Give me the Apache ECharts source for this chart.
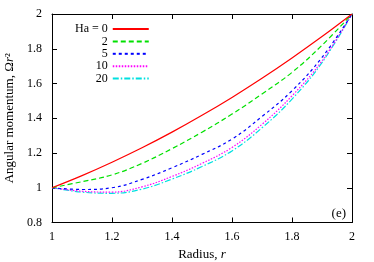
<!DOCTYPE html>
<html>
<head>
<meta charset="utf-8">
<script src="https://cdn.jsdelivr.net/npm/echarts@6/dist/echarts.min.js"></script>
<style>html,body{margin:0;padding:0;background:#fff}#c{width:374px;height:262px}</style>
</head>
<body>
<div id="c"></div>
<script>
var radius = [1.0, 1.1, 1.2, 1.3, 1.4, 1.5, 1.6, 1.7, 1.8, 1.9, 2.0];
var ha0  = [1.000, 1.070, 1.147, 1.230, 1.320, 1.417, 1.520, 1.630, 1.747, 1.870, 2.000];
var ha2  = [1.000, 1.035, 1.074, 1.140, 1.225, 1.320, 1.424, 1.540, 1.664, 1.820, 2.000];
var ha5  = [1.000, 0.990, 1.000, 1.048, 1.115, 1.192, 1.280, 1.410, 1.558, 1.750, 2.000];
var ha10 = [1.000, 0.980, 0.975, 1.005, 1.065, 1.140, 1.232, 1.365, 1.529, 1.730, 2.000];
var ha20 = [1.000, 0.975, 0.968, 0.992, 1.050, 1.122, 1.212, 1.345, 1.510, 1.720, 2.000];
var seriesNames = ['Ha = 0', '2', '5', '10', '20'];
var xTicks = [1, 1.2, 1.4, 1.6, 1.8, 2];
var yTicks = [0.8, 1, 1.2, 1.4, 1.6, 1.8, 2];

var colors = ['#ff0000', '#00e000', '#0000ff', '#ff00ff', '#00e0e0'];
var dashes = ['solid', [5, 3], [3, 3], [1.5, 1.5], [6, 2, 1.5, 2]];
var allData = [ha0, ha2, ha5, ha10, ha20];

function pairs(ys) { return radius.map(function (r, i) { return [r, ys[i]]; }); }

var font = 'Liberation Serif';
var chart = echarts.init(document.getElementById('c'), null, { renderer: 'canvas' });
var axisCommon = {
  type: 'value',
  axisLine: { show: true, lineStyle: { color: '#000', width: 1 } },
  axisTick: { show: true, inside: true, length: 5, lineStyle: { color: '#000' } },
  splitLine: { show: false },
  axisLabel: { color: '#000', fontFamily: font, fontSize: 12 }
};
var series = seriesNames.map(function (n, k) {
  return {
    name: n, type: 'line', xAxisIndex: 0, yAxisIndex: 0,
    data: pairs(allData[k]), smooth: 0.4, symbol: 'none',
    lineStyle: { color: colors[k], width: 1.2, type: dashes[k] },
    itemStyle: { color: colors[k] },
    z: 10 - k
  };
});
chart.setOption({
  animation: false,
  backgroundColor: '#fff',
  grid: { left: 52, right: 22, top: 14, bottom: 39.5, containLabel: false, outerBoundsMode: 'none' },
  legend: {
    orient: 'vertical', align: 'right', left: 70, top: 18,
    itemWidth: 36, itemHeight: 8, itemGap: 0.4,
    itemStyle: { opacity: 0, borderWidth: 0 },
    data: seriesNames,
    textStyle: { fontFamily: font, fontSize: 12, lineHeight: 12, color: '#000' }
  },
  xAxis: [
    Object.assign({}, axisCommon, {
      min: xTicks[0], max: xTicks[xTicks.length - 1], interval: 0.2,
      axisLabel: { color: '#000', fontFamily: font, fontSize: 12, margin: 8 },
      name: '{a|Radius, }{i|r}', nameLocation: 'middle', nameGap: 26,
      nameTextStyle: { rich: { a: { fontFamily: font, fontSize: 13, color: '#000' }, i: { fontFamily: font, fontSize: 13, fontStyle: 'italic', color: '#000' } } }
    }),
    Object.assign({}, axisCommon, {
      position: 'top', min: xTicks[0], max: xTicks[xTicks.length - 1], interval: 0.2,
      axisLabel: { show: false }
    })
  ],
  yAxis: [
    Object.assign({}, axisCommon, {
      min: yTicks[0], max: yTicks[yTicks.length - 1], interval: 0.2,
      axisLabel: { color: '#000', fontFamily: font, fontSize: 12, margin: 10 },
      name: '{a|Angular momentum, Ω}{i|r}{a|²}', nameLocation: 'middle', nameGap: 35, nameRotate: 90,
      nameTextStyle: { rich: { a: { fontFamily: font, fontSize: 13, color: '#000' }, i: { fontFamily: font, fontSize: 13, fontStyle: 'italic', color: '#000' } } }
    }),
    Object.assign({}, axisCommon, {
      position: 'right', min: yTicks[0], max: yTicks[yTicks.length - 1], interval: 0.2,
      axisLabel: { show: false }
    })
  ],
  graphic: [{
    type: 'text', right: 28, top: 207,
    style: { text: '(e)', fontFamily: font, fontSize: 13, fill: '#000' }
  }],
  series: series
});
</script>
</body>
</html>
